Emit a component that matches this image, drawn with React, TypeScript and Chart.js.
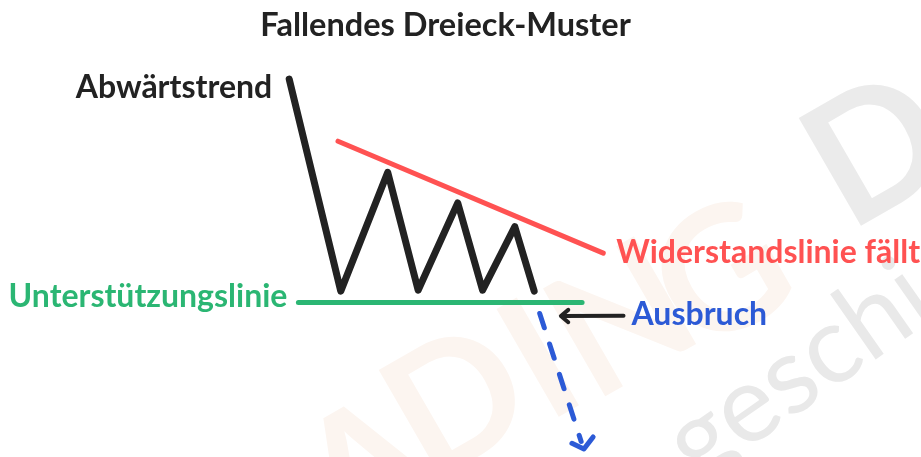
import React, { useEffect, useRef } from "react";
import { Chart, registerables } from "chart.js";

Chart.register(...registerables);

// Diagram geometry in abstract units (time 0-100, price 0-100)
const trendX = [31.4, 37.0, 42.1, 45.4, 49.7, 52.4, 55.9, 58.0];
const trendY = [82.7, 36.3, 62.3, 36.5, 55.6, 36.5, 50.4, 36.3];

const resistanceX = [36.7, 65.5];
const resistanceY = [69.1, 44.6];

const supportX = [32.4, 63.2];
const supportY = [33.8, 33.8];

const breakoutX = [58.6, 63.1];
const breakoutY = [31.4, 3.4];

const breakoutHeadX = [62.1, 63.4, 64.4];
const breakoutHeadY = [3.0, 1.75, 4.4];

const pointerX = [67.7, 61.0];
const pointerY = [30.9, 30.85];

const pointerHeadX = [61.7, 60.9, 61.7];
const pointerHeadY = [32.2, 30.85, 29.5];

const titleText = "Fallendes Dreieck-Muster";
const labelTrend = "Abwärtstrend";
const labelResistance = "Widerstandslinie fällt";
const labelSupport = "Unterstützungslinie";
const labelBreakout = "Ausbruch";

const watermarkLetters = ["A", "D", "I", "N", "G", "D"];
const watermarkText2 = "h geschickt";

const BLACK = "#222222";
const RED = "#ff5252";
const GREEN = "#2bb673";
const BLUE = "#2c5ad6";

const pts = (xs: number[], ys: number[]) => xs.map((x, i) => ({ x, y: ys[i] }));

const labelPlugin = {
  id: "labels",
  beforeDatasetsDraw(chart: any) {
    const { ctx } = chart;
    ctx.save();
    // faint watermark letters
    const centers = [
      [368, 472],
      [458, 404],
      [541, 363],
      [623, 322],
      [723, 277],
      [878, 152],
    ];
    const cols = ["#fcf5f0", "#fcf5f0", "#fcf5f0", "#fcf5f0", "#fcf5f0", "#ebebeb"];
    ctx.font = "bold 172px Lato";
    ctx.textAlign = "center";
    ctx.textBaseline = "middle";
    watermarkLetters.forEach((l, i) => {
      ctx.save();
      ctx.translate(centers[i][0], centers[i][1]);
      ctx.rotate(-30 * Math.PI / 180);
      ctx.fillStyle = cols[i];
      ctx.fillText(l, 0, 0);
      ctx.restore();
    });
    ctx.save();
    ctx.translate(625, 535);
    ctx.rotate(-35 * Math.PI / 180);
    ctx.font = "400 108px Lato";
    ctx.textAlign = "left";
    ctx.textBaseline = "alphabetic";
    ctx.fillStyle = "#e9e9e9";
    ctx.fillText(watermarkText2, 0, 0);
    ctx.restore();
    ctx.restore();
  },
  afterDatasetsDraw(chart: any) {
    const { ctx } = chart;
    const xs = chart.scales.x;
    const ys = chart.scales.y;
    ctx.save();
    ctx.textBaseline = "alphabetic";
    ctx.font = "bold 32.5px Lato";
    ctx.fillStyle = BLACK;
    ctx.textAlign = "center";
    ctx.fillText(titleText, 445.5, 36);

    ctx.font = "bold 32px Lato";
    ctx.textAlign = "right";
    ctx.fillStyle = BLACK;
    ctx.fillText(labelTrend, xs.getPixelForValue(trendX[0]) - 17, ys.getPixelForValue(trendY[0]) + 19);

    ctx.textAlign = "left";
    ctx.fillStyle = RED;
    ctx.fillText(labelResistance, xs.getPixelForValue(resistanceX[1]) + 13, ys.getPixelForValue(resistanceY[1]) + 10);

    ctx.textAlign = "right";
    ctx.fillStyle = GREEN;
    ctx.fillText(labelSupport, xs.getPixelForValue(supportX[0]) - 11, ys.getPixelForValue(supportY[0]) + 4);

    ctx.textAlign = "left";
    ctx.fillStyle = BLUE;
    ctx.fillText(labelBreakout, xs.getPixelForValue(pointerX[0]) + 8, ys.getPixelForValue(pointerY[0]) + 9);
    ctx.restore();
  },
};

export default function App() {
  const ref = useRef<HTMLCanvasElement | null>(null);
  useEffect(() => {
    if (!ref.current) return;
    const line = (data: any, color: string, w: number, extra: any = {}) => ({
      data,
      borderColor: color,
      backgroundColor: color,
      borderWidth: w,
      pointRadius: 0,
      tension: 0,
      fill: false,
      borderCapStyle: "round",
      borderJoinStyle: "round",
      clip: false,
      ...extra,
    });
    const chart = new Chart(ref.current, {
      type: "line",
      data: {
        datasets: [
          line(pts(supportX, supportY), GREEN, 5),
          line(pts(resistanceX, resistanceY), RED, 5),
          line(pts(trendX, trendY), BLACK, 7),
          line(pts(breakoutX, breakoutY), BLUE, 5, { borderDash: [15, 17] }),
          line(pts(breakoutHeadX, breakoutHeadY), BLUE, 5),
          line(pts(pointerX, pointerY), BLACK, 4),
          line(pts(pointerHeadX, pointerHeadY), BLACK, 4),
        ] as any,
      },
      options: {
        responsive: false,
        animation: false,
        devicePixelRatio: 1,
        layout: { padding: 0, autoPadding: false },
        scales: {
          x: { type: "linear", min: 0, max: 100, display: false },
          y: { type: "linear", min: 0, max: 100, display: false },
        },
        plugins: {
          legend: { display: false },
          tooltip: { enabled: false },
          title: { display: false },
        },
        events: [],
      } as any,
      plugins: [labelPlugin],
    });
    return () => chart.destroy();
  }, []);
  return (
    <div style={{ position: "fixed", left: 0, top: 0, width: 921, height: 457, background: "#ffffff" }}>
      <canvas ref={ref} width={921} height={457} />
    </div>
  );
}
